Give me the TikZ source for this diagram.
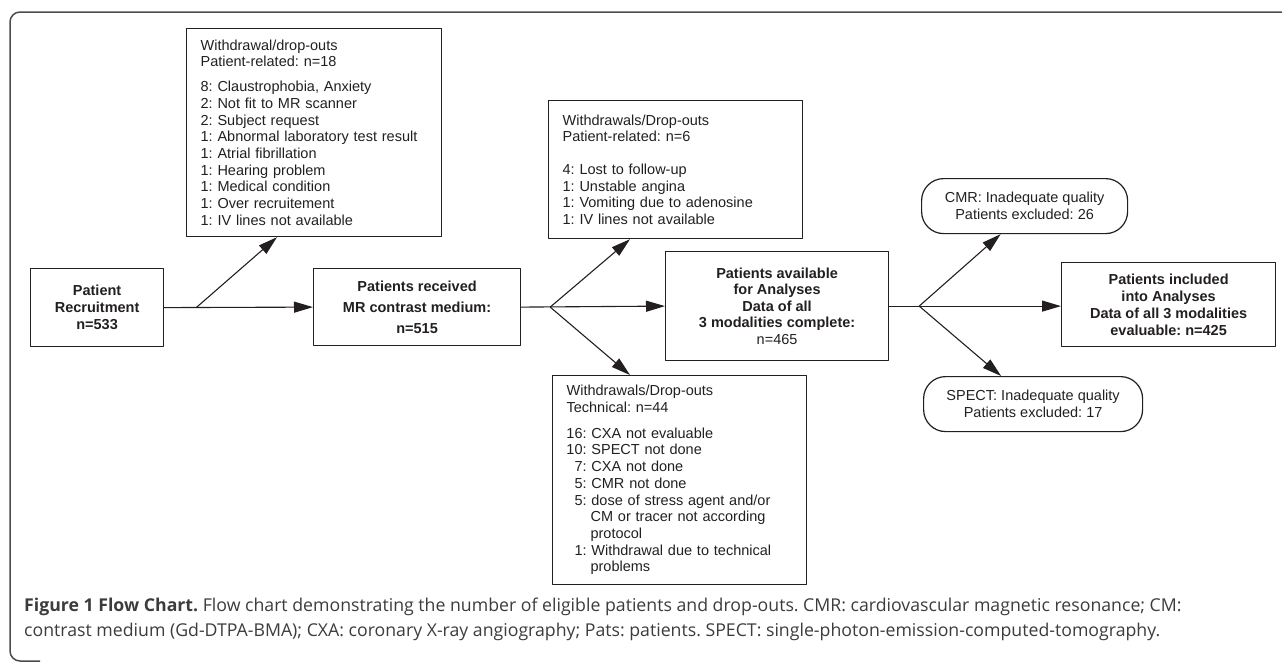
\documentclass[tikz,border=0pt]{standalone}
\usepackage{fontspec}
\setmainfont{Liberation Sans}
\newfontfamily\capfont{Open Sans}
\usetikzlibrary{arrows.meta}
\definecolor{ink}{HTML}{231F20}
\definecolor{capgray}{HTML}{3C3C3C}
\newcommand{\cnt}[1]{\makebox[20pt][r]{#1:}\ }
\newcommand{\cont}{\hspace*{24pt}}
\frenchspacing
\begin{document}
\begin{tikzpicture}[x=1pt,y=-1pt,line join=round,>={Triangle[length=19pt,width=11pt]},
	box/.style={draw=ink,line width=1.2pt,rectangle,anchor=north west,inner sep=0pt,text=ink,font=\fontsize{14.5}{16.7}\selectfont},
	listbox/.style={box,align=left,inner xsep=14pt},
	bigbox/.style={box,align=center,font=\fontsize{14.5}{17}\selectfont\bfseries},
	oval/.style={box,rounded corners=22pt,align=center},
	arr/.style={->,draw=ink,line width=1.1pt}]
	\useasboundingbox (0,0) rectangle (1282,662);
	% frame
	\draw[black!70,line width=1.5pt,rounded corners=10pt] (1290,12) -- (10,12) -- (10,661) -- (40,661);
	% boxes
	\node[bigbox,minimum width=133pt,minimum height=78pt] (rec) at (30,268) {Patient\\Recruitment\\n=533};
	\node[listbox,text width=227pt,minimum height=208pt] (wd1) at (186,28) {Withdrawal/drop-outs\\Patient-related: n=18\\[8pt]8: Claustrophobia, Anxiety\\2: Not fit to MR scanner\\2: Subject request\\1: Abnormal laboratory test result\\1: Atrial fibrillation\\1: Hearing problem\\1: Medical condition\\1: Over recruitement\\1: IV lines not available};
	\node[bigbox,minimum width=207pt,minimum height=77pt] (recv) at (313,268) {Patients received\\[4pt]MR contrast medium:\\[4pt]n=515};
	\node[listbox,text width=226pt,minimum height=138pt] (wd2) at (548,100) {Withdrawals/Drop-outs\\Patient-related: n=6\\[16pt]4: Lost to follow-up\\1: Unstable angina\\1: Vomiting due to adenosine\\1: IV lines not available};
	\node[bigbox,font=\fontsize{14.5}{16.5}\selectfont\bfseries,minimum width=223pt,minimum height=109pt] (avail) at (665,251) {Patients available\\for Analyses\\Data of all\\3 modalities complete:\\\mdseries n=465};
	\node[listbox,text width=226pt,minimum height=209pt] (tech) at (552,375) {Withdrawals/Drop-outs\\Technical: n=44\\[9pt]\cnt{16}CXA not evaluable\\\cnt{10}SPECT not done\\\cnt{7}CXA not done\\\cnt{5}CMR not done\\\cnt{5}dose of stress agent and/or\\\cont CM or tracer not according\\\cont protocol\\\cnt{1}Withdrawal due to technical\\\cont problems};
	\node[oval,minimum width=206pt,minimum height=55pt] (cmr) at (921,178) {CMR: Inadequate quality\\Patients excluded: 26};
	\node[oval,minimum width=219pt,minimum height=55pt] (spect) at (923,376) {SPECT: Inadequate quality\\Patients excluded: 17};
	\node[bigbox,minimum width=214pt,minimum height=84pt] (incl) at (1061,262) {Patients included\\into Analyses\\Data of all 3 modalities\\evaluable: n=425};
	% branch points and arrow ends
	\coordinate (b1) at ([xshift=32pt]rec.east);
	\coordinate (b2) at ([xshift=29pt]recv.east);
	\coordinate (b3) at ([xshift=30pt]avail.east);
	\coordinate (t1) at ([xshift=91pt]wd1.south west);
	\coordinate (t2) at ([xshift=82pt]wd2.south west);
	\coordinate (t3) at ([xshift=78pt]tech.north west);
	\coordinate (t4) at ([xshift=-24pt]cmr.south);
	\coordinate (t5) at ([xshift=-32pt]spect.north);
	% arrows
	\draw[arr] (rec.east) -- (recv.west);
	\draw[arr] (b1) -- (t1);
	\draw[arr] (recv.east) -- (avail.west);
	\draw[arr] (b2) -- (t2);
	\draw[arr] (b2) -- (t3);
	\draw[arr] (avail.east) -- (avail.east -| incl.west);
	\draw[arr] (b3) -- (t4);
	\draw[arr] (b3) -- (t5);
	% caption
	\node[anchor=north west,align=left,inner sep=0pt,text=capgray,font=\capfont\fontsize{17.7}{25}\selectfont] (cap) at (24,598) {\textbf{Figure 1 Flow Chart.} Flow chart demonstrating the number of eligible patients and drop-outs. CMR: cardiovascular magnetic resonance; CM:\\contrast medium (Gd-DTPA-BMA); CXA: coronary X-ray angiography; Pats: patients. SPECT: single-photon-emission-computed-tomography.};
\end{tikzpicture}
\end{document}
